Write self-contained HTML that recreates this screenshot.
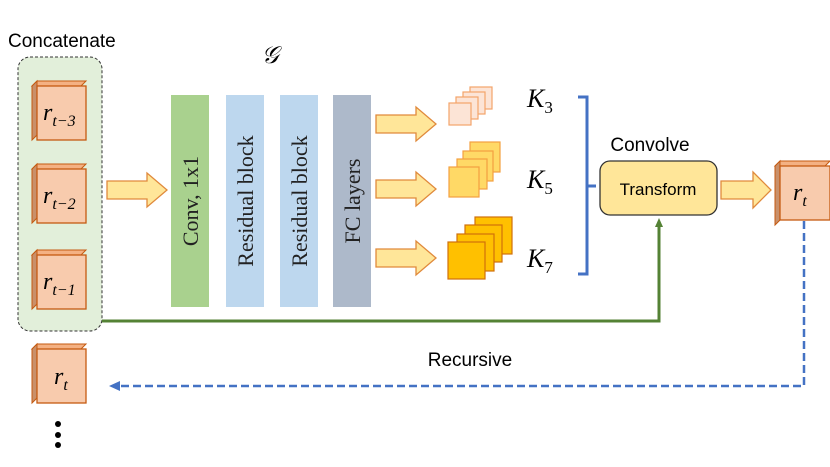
<!DOCTYPE html>
<html><head><meta charset="utf-8"><style>body{margin:0;background:#fff}svg{display:block}</style></head>
<body>
<svg width="830" height="467" viewBox="0 0 830 467" xmlns="http://www.w3.org/2000/svg">
<defs>
<g id="cube">
  <polygon points="0,5 5,0 54,0 49,5" fill="#f4b183" stroke="#c55a11" stroke-width="1"/>
  <polygon points="0,5 5,0 5,54 0,59" fill="#c9906a" stroke="#c55a11" stroke-width="1"/>
  <rect x="5" y="5" width="49" height="54" fill="#f8cbad" stroke="#c55a11" stroke-width="1.3"/>
</g>
<g id="arr">
  <polygon points="0,-9 40,-9 40,-17 60,0 40,17 40,9 0,9" fill="#ffe699" stroke="#e08a3c" stroke-width="1.3"/>
</g>
<marker id="gh" markerUnits="userSpaceOnUse" markerWidth="10" markerHeight="10" refX="2" refY="5" orient="auto"><path d="M0,1 L9,5 L0,9 z" fill="#548235"/></marker>
<marker id="bh" markerUnits="userSpaceOnUse" markerWidth="12" markerHeight="12" refX="2" refY="6" orient="auto"><path d="M0,1 L11,6 L0,11 z" fill="#4472c4"/></marker>
</defs>

<text x="8" y="47" font-family="Liberation Sans, sans-serif" font-size="19">Concatenate</text>
<rect x="18" y="57" width="84" height="274" rx="12" fill="#e2efda" stroke="#333" stroke-width="1" stroke-dasharray="3,2"/>

<use href="#cube" x="32" y="81"/>
<use href="#cube" x="32" y="164"/>
<use href="#cube" x="32" y="250"/>
<use href="#cube" x="32" y="344"/>
<g font-family="Liberation Serif, serif" font-style="italic">
<text x="43" y="120" font-size="24">r<tspan font-size="16" dy="6">t−3</tspan></text>
<text x="43" y="203" font-size="24">r<tspan font-size="16" dy="6">t−2</tspan></text>
<text x="43" y="289" font-size="24">r<tspan font-size="16" dy="6">t−1</tspan></text>
<text x="54" y="384" font-size="24">r<tspan font-size="16" dy="6">t</tspan></text>
</g>
<circle cx="58" cy="424" r="3"/><circle cx="58" cy="435" r="3"/><circle cx="58" cy="445" r="3"/>

<use href="#arr" x="107" y="190"/>

<text x="270" y="63" font-family="Liberation Serif, serif" font-style="italic" font-size="24" text-anchor="middle">𝒢</text>
<rect x="171" y="95" width="38" height="212" fill="#a9d18e"/>
<rect x="226" y="95" width="38" height="212" fill="#bdd7ee"/>
<rect x="280" y="95" width="38" height="212" fill="#bdd7ee"/>
<rect x="333" y="95" width="38" height="212" fill="#adb9ca"/>
<g font-family="Liberation Serif, serif" font-size="22" fill="#222" text-anchor="middle">
<text transform="translate(198,201) rotate(-90)">Conv, 1x1</text>
<text transform="translate(253,201) rotate(-90)">Residual block</text>
<text transform="translate(307,201) rotate(-90)">Residual block</text>
<text transform="translate(360,201) rotate(-90)">FC layers</text>
</g>

<use href="#arr" x="376" y="124"/>
<use href="#arr" x="376" y="189"/>
<use href="#arr" x="376" y="258"/>

<g stroke="#f4a46a" stroke-width="1.2" fill="#fce4d6">
<rect x="470" y="87" width="22" height="22"/><rect x="463" y="92" width="22" height="22"/><rect x="456" y="97" width="22" height="22"/><rect x="449" y="103" width="22" height="22"/>
</g>
<g stroke="#f4a040" stroke-width="1.2" fill="#ffd966">
<rect x="470" y="142" width="30" height="30"/><rect x="463" y="151" width="30" height="30"/><rect x="457" y="159" width="30" height="30"/><rect x="449" y="167" width="30" height="30"/>
</g>
<g stroke="#d0700a" stroke-width="1.2" fill="#ffc000">
<rect x="475" y="217" width="37" height="37"/><rect x="465" y="225" width="37" height="37"/><rect x="457" y="234" width="37" height="37"/><rect x="448" y="242" width="37" height="37"/>
</g>
<g font-family="Liberation Serif, serif" font-style="italic" font-size="26">
<text x="527" y="107">K<tspan font-size="17" font-style="normal" dy="6">3</tspan></text>
<text x="527" y="188">K<tspan font-size="17" font-style="normal" dy="6">5</tspan></text>
<text x="527" y="267">K<tspan font-size="17" font-style="normal" dy="6">7</tspan></text>
</g>
<path d="M578,97 L587,97 L587,274 L578,274 M587,186 L596,186" fill="none" stroke="#4472c4" stroke-width="3"/>

<text x="650" y="151" font-family="Liberation Sans, sans-serif" font-size="19" text-anchor="middle">Convolve</text>
<rect x="600" y="161" width="117" height="54" rx="10" fill="#ffe699" stroke="#333" stroke-width="1.3"/>
<text x="658" y="195" font-family="Liberation Sans, sans-serif" font-size="17" text-anchor="middle">Transform</text>
<polygon points="721,181 753,181 753,172 771,190 753,208 753,199 721,199" fill="#ffe699" stroke="#e08a3c" stroke-width="1.3"/>
<g transform="translate(775,161)">
  <polygon points="0,5 5,0 55,0 50,5" fill="#f4b183" stroke="#c55a11"/>
  <polygon points="0,5 5,0 5,59 0,64" fill="#c9906a" stroke="#c55a11"/>
  <rect x="5" y="5" width="50" height="54" fill="#f8cbad" stroke="#c55a11" stroke-width="1.3"/>
</g>
<text x="793" y="200" font-family="Liberation Serif, serif" font-style="italic" font-size="24">r<tspan font-size="16" dy="6">t</tspan></text>

<path d="M102,321 L659,321 L659,225" fill="none" stroke="#548235" stroke-width="3" marker-end="url(#gh)"/>
<path d="M804,221 L804,386 L118,386" fill="none" stroke="#4472c4" stroke-width="2.5" stroke-dasharray="8,4" marker-end="url(#bh)"/>
<text x="470" y="366" font-family="Liberation Sans, sans-serif" font-size="19" text-anchor="middle">Recursive</text>
</svg>
</body></html>
